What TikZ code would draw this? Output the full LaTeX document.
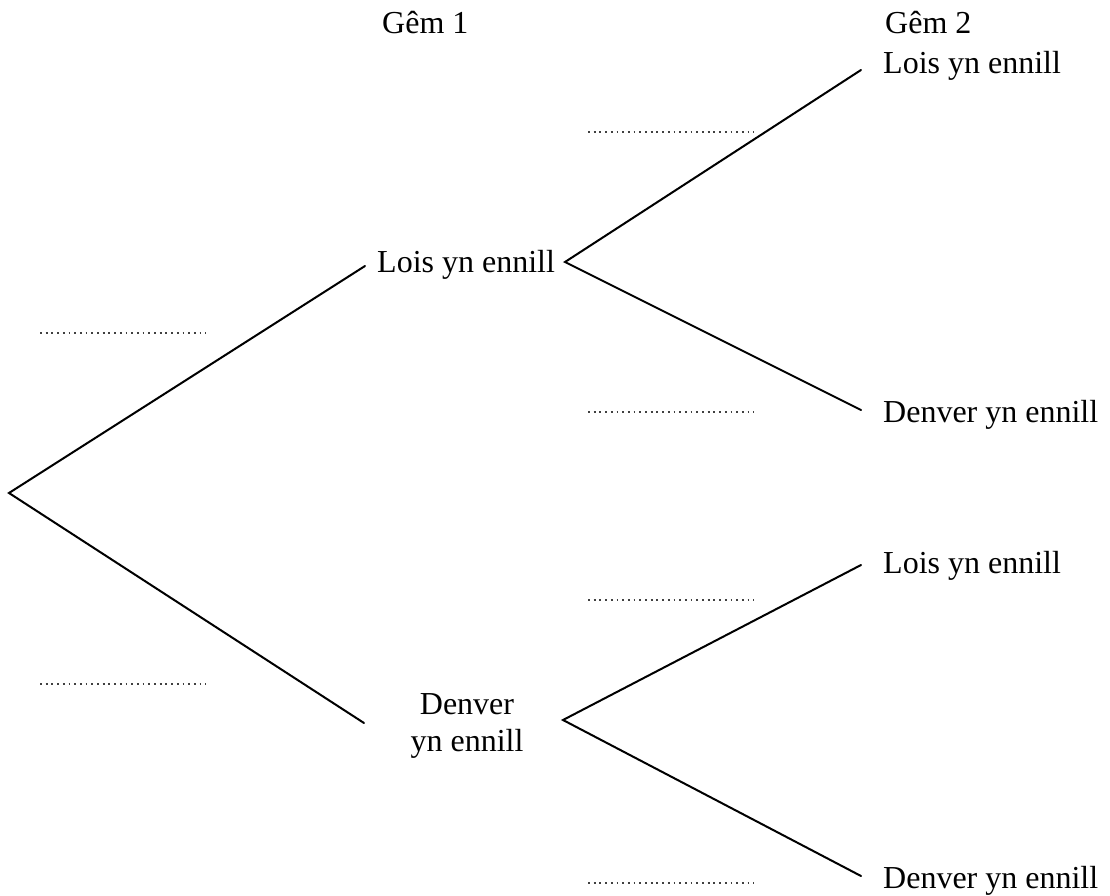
\documentclass[tikz,border=0pt]{standalone}
\usepackage{fontspec}
\setmainfont{Liberation Serif}
\begin{document}
\begin{tikzpicture}[x=1pt,y=-1pt,
  lbl/.style={anchor=base west,inner sep=0pt,font=\fontsize{32}{34}\selectfont},
  branch/.style={line width=2pt,line cap=round,line join=miter},
  blank/.style={line width=1.8pt,dash pattern=on 1.8pt off 3.9pt,color=black!75}]
\useasboundingbox (0,0) rectangle (1110,896);
% headers
\node[lbl] (g1) at (382,34) {Gêm 1};
\node[lbl] (g2) at (885,34) {Gêm 2};
% level 1 labels
\node[lbl] (lw) at (377,272) {Lois yn ennill};
\node[lbl,anchor=base,align=center] (dw) at (467,751) {Denver\\[3pt]yn ennill};
% level 2 labels
\node[lbl] (lw1) at (883,74) {Lois yn ennill};
\node[lbl] (dw1) at (883,422) {Denver yn ennill};
\node[lbl] (lw2) at (883,573) {Lois yn ennill};
\node[lbl] (dw2) at (883,888) {Denver yn ennill};
% coordinates
\coordinate (root) at (9,493);
\coordinate (e1) at (365,266);
\coordinate (e2) at (364,723);
\coordinate (f1) at (565,262);
\coordinate (f2) at (563,720);
\coordinate (t1) at (861,70);
\coordinate (t2) at (861,410);
\coordinate (t3) at (861,565);
\coordinate (t4) at (861,876);
% branches
\draw[branch] (e1) -- (root) -- (e2);
\draw[branch] (t1) -- (f1) -- (t2);
\draw[branch] (t3) -- (f2) -- (t4);
% blanks
\coordinate (b1s) at (40,333);  \coordinate (b1e) at (206,333);
\coordinate (b2s) at (40,684);  \coordinate (b2e) at (206,684);
\coordinate (b3s) at (588,132); \coordinate (b3e) at (754,132);
\coordinate (b4s) at (588,412); \coordinate (b4e) at (754,412);
\coordinate (b5s) at (588,600); \coordinate (b5e) at (754,600);
\coordinate (b6s) at (588,883); \coordinate (b6e) at (754,883);
\draw[blank] (b1s) -- (b1e);
\draw[blank] (b2s) -- (b2e);
\draw[blank] (b3s) -- (b3e);
\draw[blank] (b4s) -- (b4e);
\draw[blank] (b5s) -- (b5e);
\draw[blank] (b6s) -- (b6e);
\end{tikzpicture}
\end{document}
